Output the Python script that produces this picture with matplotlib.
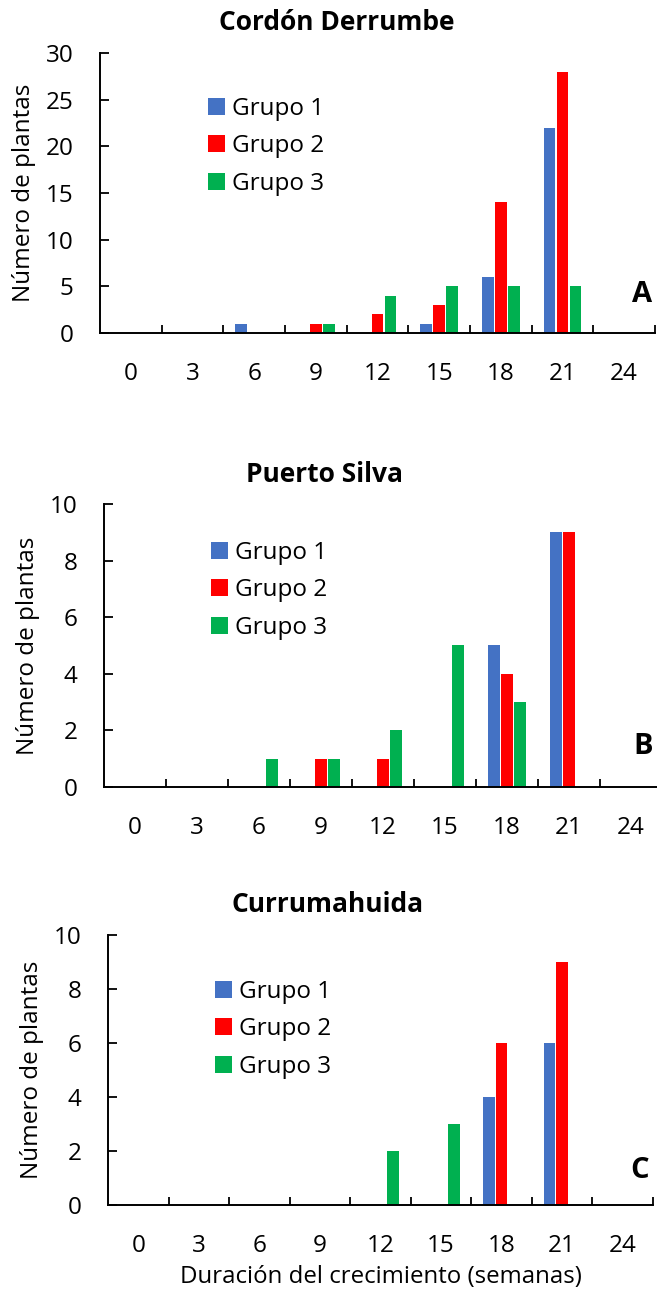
import matplotlib
matplotlib.use("Agg")
import matplotlib.pyplot as plt
from matplotlib.patches import Patch
import numpy as np

plt.rcParams['font.family'] = ['Open Sans', 'DejaVu Sans']

categories = ["0", "3", "6", "9", "12", "15", "18", "21", "24"]
series_names = ["Grupo 1", "Grupo 2", "Grupo 3"]
colors = ["#4472C4", "#FF0000", "#00B050"]

# Panel A: Cordón Derrumbe
a_g1 = [0, 0, 1, 0, 0, 1, 6, 22, 0]
a_g2 = [0, 0, 0, 1, 2, 3, 14, 28, 0]
a_g3 = [0, 0, 0, 1, 4, 5, 5, 5, 0]
# Panel B: Puerto Silva
b_g1 = [0, 0, 0, 0, 0, 0, 5, 9, 0]
b_g2 = [0, 0, 0, 1, 1, 0, 4, 9, 0]
b_g3 = [0, 0, 1, 1, 2, 5, 3, 0, 0]
# Panel C: Currumahuida
c_g1 = [0, 0, 0, 0, 0, 0, 4, 6, 0]
c_g2 = [0, 0, 0, 0, 0, 0, 6, 9, 0]
c_g3 = [0, 0, 0, 0, 2, 3, 0, 0, 0]

titles = ["Cordón Derrumbe", "Puerto Silva", "Currumahuida"]
letters = ["A", "B", "C"]
ymax = [30, 10, 10]
ystep = [5, 2, 2]

W, H = 657, 1290
fig = plt.figure(figsize=(W / 100, H / 100), dpi=100)

def fx(px):
    return px / W

def fy(py):
    return 1 - py / H

# axes boxes in pixels: left, right, top, bottom
boxes = [(100, 655, 53, 333), (104, 662, 504, 787), (108, 653, 935, 1205)]
title_pos = [(337, 23), (324, 474), (328, 905)]
letter_pos = [(642, 295), (643, 747), (640, 1170)]
legend_pos = [(208, 97), (211, 541), (215, 980)]
ylabel_x = [24, 28, 32]

data = [(a_g1, a_g2, a_g3), (b_g1, b_g2, b_g3), (c_g1, c_g2, c_g3)]

x = np.arange(len(categories))
bw = 0.19
offs = [-0.21, 0.0, 0.21]

for i in range(3):
    l, r, t, b = boxes[i]
    ax = fig.add_axes([fx(l), fy(b), fx(r) - fx(l), fy(t) - fy(b)])
    for s in range(3):
        vals = np.array(data[i][s])
        ax.bar(x + offs[s], vals, width=bw, color=colors[s], linewidth=0,
               label=series_names[s])
    ax.set_xlim(-0.5, len(categories) - 0.5)
    ax.set_ylim(0, ymax[i])
    ax.set_xticks(x)
    ax.set_xticklabels(categories)
    ax.set_xticks(np.arange(0.5, len(categories), 1.0), minor=True)
    ax.set_yticks(np.arange(0, ymax[i] + 0.1, ystep[i]))
    ax.tick_params(axis='x', which='major', length=0, pad=21, labelsize=17.5)
    ax.tick_params(axis='x', which='minor', direction='in', length=6, width=1.3)
    ax.tick_params(axis='y', direction='in', length=6.5, width=1.3, pad=19, labelsize=17.5)
    for sp in ['top', 'right']:
        ax.spines[sp].set_visible(False)
    for sp in ['left', 'bottom']:
        ax.spines[sp].set_linewidth(1.4)
        ax.spines[sp].set_color('black')
    ax.spines['bottom'].set_zorder(3)

    handles = [Patch(facecolor=c, edgecolor='none') for c in colors]
    lx, ly = legend_pos[i]
    fig.legend(handles, series_names, loc='upper left',
               bbox_to_anchor=(fx(lx), fy(ly)), bbox_transform=fig.transFigure,
               frameon=False, fontsize=17.5, handlelength=0.7, handleheight=0.7,
               handletextpad=0.3, labelspacing=0.55, borderpad=0, borderaxespad=0)

    tx, ty = title_pos[i]
    fig.text(fx(tx), fy(ty), titles[i], ha='center', va='center',
             fontsize=19, fontweight='bold')
    lx2, ly2 = letter_pos[i]
    fig.text(fx(lx2), fy(ly2), letters[i], ha='center', va='center',
             fontsize=21, fontweight='bold')
    fig.text(fx(ylabel_x[i]), fy((t + b) / 2), "Número de plantas", rotation=90,
             ha='center', va='center', fontsize=17.5)
    if i == 2:
        fig.text(fx((l + r) / 2), fy(1277), "Duración del crecimiento (semanas)",
                 ha='center', va='center', fontsize=17.3)

fig.savefig("out.png", dpi=100)
